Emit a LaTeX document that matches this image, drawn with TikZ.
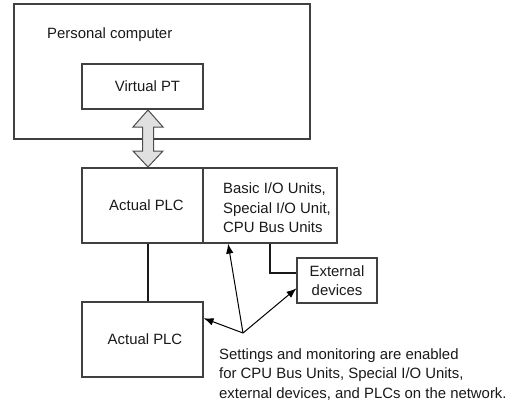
\documentclass[tikz,border=0pt]{standalone}
\usepackage{fontspec}
\setmainfont{Liberation Sans}
\usetikzlibrary{calc,arrows.meta}
\begin{document}
\begin{tikzpicture}[x=1pt,y=-1pt,
        box/.style={draw=black!75, line width=1.1pt, minimum width=121pt, minimum height=75pt, inner sep=0pt},
        txt/.style={inner sep=0pt, align=left},
        every node/.append style={font=\fontsize{14.9}{19.5}\selectfont, text=black!90}]
        \useasboundingbox (0,0) rectangle (518,405);
        \node[box, minimum width=296pt, minimum height=135pt] (pc) at (162,71.5) {};
        \node[txt, anchor=west] (pcname) at (47,35) {Personal computer};
        \node[box, minimum height=45pt] (vpt) at (142.5,86.5) {\hspace{10pt}Virtual PT};
        \node[box] (plcA) at (142.5,205.5) {\hspace{8pt}Actual PLC};
        \node[box, minimum width=134pt] (units) at (270,205.5) {};
        \node[txt, anchor=north west] (unitsname) at (223,182.5) {Basic I/O Units,\\Special I/O Unit,\\CPU Bus Units};
        \node[box, minimum width=80pt, minimum height=45pt, align=center] (ext) at (337,280.5) {External\\devices};
        \node[box] (plcB) at (142.5,339.5) {\hspace{5pt}Actual PLC};
        \node[txt, anchor=north west] (note) at (219,348) {Settings and monitoring are enabled\\for CPU Bus Units, Special I/O Units,\\external devices, and PLCs on the network.};
        % link between PT and PLC
        \coordinate (link) at (148,110);
        \filldraw[line width=1pt, draw=black!70, fill=black!12] (link) -- ++(15,17) -- ++(-9.5,0) -- ++(0,24) -- ++(9.5,0) -- ++(-15,16)
            -- ++(-15,-16) -- ++(9.5,0) -- ++(0,-24) -- ++(-9.5,0) -- cycle;
        \draw[line width=2.8pt, black!90] (plcA.south -| link) -- (plcB.north -| link);
        \draw[line width=1.7pt, black!90] (units.south) |- ($(ext.west)+(0,-7.5)$);
        % settings and monitoring
        \coordinate (hub) at (243,333);
        \draw[-{Latex[length=10pt,width=7.5pt]}, line width=1pt] (hub) -- ($(units.south west)!0.19!(units.south east)$);
        \draw[-{Latex[length=10pt,width=7.5pt]}, line width=1pt] (hub) -- ($(ext.south west)!0.33!(ext.north west)$);
        \draw[-{Latex[length=10pt,width=7.5pt]}, line width=1pt] (hub) -- ($(plcB.north east)!0.22!(plcB.south east)$);
    \end{tikzpicture}
\end{document}
